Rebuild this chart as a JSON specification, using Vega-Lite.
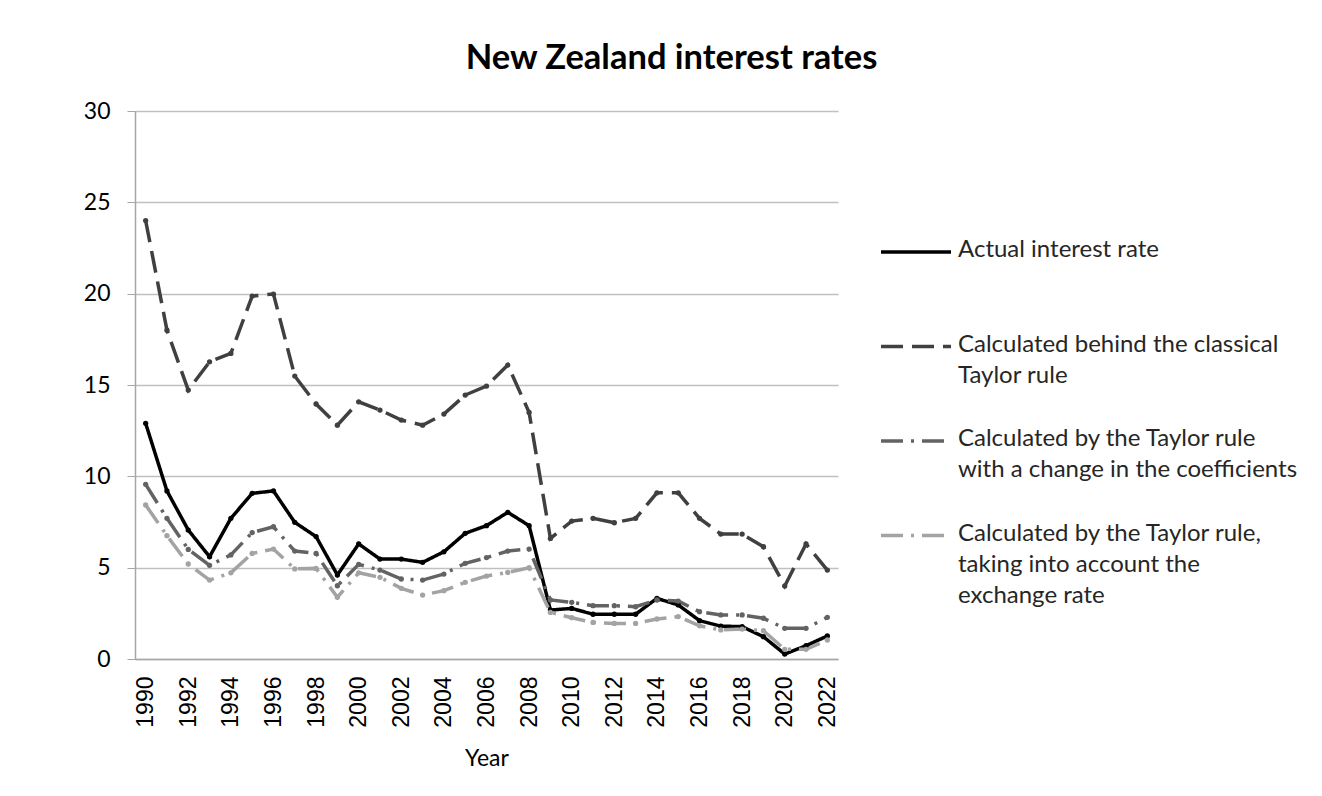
{
  "$schema": "https://vega.github.io/schema/vega-lite/v6.json",
  "autosize": "none",
  "width": 703,
  "height": 548,
  "padding": {"left": 135, "top": 111, "right": 484, "bottom": 137},
  "background": "white",
  "title": {
    "text": "New Zealand interest rates",
    "font": "Lato",
    "fontSize": 34.5,
    "fontWeight": "bold",
    "color": "#000000",
    "anchor": "middle",
    "frame": "group",
    "baseline": "alphabetic",
    "offset": -3,
    "dx": 185
  },
  "data": {
    "values": [
      {"Year": 1990, "a": 12.9, "b": 24.0, "c": 9.56, "d": 8.43},
      {"Year": 1991, "a": 9.2, "b": 18.0, "c": 7.7, "d": 6.75},
      {"Year": 1992, "a": 7.06, "b": 14.72, "c": 6.0, "d": 5.2},
      {"Year": 1993, "a": 5.6, "b": 16.27, "c": 5.13, "d": 4.32},
      {"Year": 1994, "a": 7.7, "b": 16.73, "c": 5.7, "d": 4.72},
      {"Year": 1995, "a": 9.07, "b": 19.87, "c": 6.92, "d": 5.78},
      {"Year": 1996, "a": 9.2, "b": 19.98, "c": 7.24, "d": 6.02},
      {"Year": 1997, "a": 7.48, "b": 15.49, "c": 5.91, "d": 4.93},
      {"Year": 1998, "a": 6.7, "b": 13.96, "c": 5.78, "d": 4.96},
      {"Year": 1999, "a": 4.6, "b": 12.8, "c": 4.01, "d": 3.38},
      {"Year": 2000, "a": 6.3, "b": 14.08, "c": 5.18, "d": 4.72},
      {"Year": 2001, "a": 5.47, "b": 13.63, "c": 4.87, "d": 4.47},
      {"Year": 2002, "a": 5.47, "b": 13.08, "c": 4.38, "d": 3.87},
      {"Year": 2003, "a": 5.29, "b": 12.8, "c": 4.32, "d": 3.5},
      {"Year": 2004, "a": 5.87, "b": 13.41, "c": 4.65, "d": 3.74},
      {"Year": 2005, "a": 6.88, "b": 14.45, "c": 5.24, "d": 4.2},
      {"Year": 2006, "a": 7.3, "b": 14.94, "c": 5.55, "d": 4.54},
      {"Year": 2007, "a": 8.03, "b": 16.09, "c": 5.91, "d": 4.74},
      {"Year": 2008, "a": 7.3, "b": 13.5, "c": 6.02, "d": 5.0},
      {"Year": 2009, "a": 2.68, "b": 6.6, "c": 3.23, "d": 2.55},
      {"Year": 2010, "a": 2.77, "b": 7.55, "c": 3.1, "d": 2.26},
      {"Year": 2011, "a": 2.45, "b": 7.7, "c": 2.92, "d": 2.0},
      {"Year": 2012, "a": 2.45, "b": 7.46, "c": 2.92, "d": 1.95},
      {"Year": 2013, "a": 2.45, "b": 7.7, "c": 2.86, "d": 1.95},
      {"Year": 2014, "a": 3.32, "b": 9.1, "c": 3.23, "d": 2.19},
      {"Year": 2015, "a": 2.96, "b": 9.1, "c": 3.17, "d": 2.32},
      {"Year": 2016, "a": 2.1, "b": 7.7, "c": 2.59, "d": 1.82},
      {"Year": 2017, "a": 1.8, "b": 6.84, "c": 2.41, "d": 1.59},
      {"Year": 2018, "a": 1.77, "b": 6.84, "c": 2.41, "d": 1.64},
      {"Year": 2019, "a": 1.22, "b": 6.15, "c": 2.23, "d": 1.55},
      {"Year": 2020, "a": 0.27, "b": 4.0, "c": 1.68, "d": 0.53},
      {"Year": 2021, "a": 0.73, "b": 6.3, "c": 1.68, "d": 0.53},
      {"Year": 2022, "a": 1.26, "b": 4.87, "c": 2.28, "d": 1.04}
    ]
  },
  "transform": [{"fold": ["a", "b", "c", "d"], "as": ["Series", "Value"]}],
  "encoding": {
    "x": {
      "field": "Year",
      "type": "ordinal",
      "scale": {"type": "point", "padding": 0.5},
      "axis": {
        "title": "Year",
        "titleFont": "Lato",
        "titleFontSize": 23,
        "titleFontWeight": "normal",
        "titleColor": "#000000",
        "titlePadding": 20,
        "values": [1990, 1992, 1994, 1996, 1998, 2000, 2002, 2004, 2006, 2008, 2010, 2012, 2014, 2016, 2018, 2020, 2022],
        "labelAngle": -90,
        "labelFont": "Liberation Sans",
        "labelFontSize": 23,
        "labelColor": "#000000",
        "labelPadding": 17,
        "ticks": false,
        "domainColor": "#a6a6a6",
        "domainWidth": 1.5,
        "grid": false
      }
    },
    "y": {
      "field": "Value",
      "type": "quantitative",
      "scale": {"domain": [0, 30], "nice": false},
      "axis": {
        "title": null,
        "values": [0, 5, 10, 15, 20, 25, 30],
        "labelFont": "Lato",
        "labelFontSize": 23,
        "labelColor": "#000000",
        "labelPadding": 17,
        "tickSize": 8,
        "tickColor": "#a6a6a6",
        "domainColor": "#a6a6a6",
        "domainWidth": 1.5,
        "gridColor": "#c0c0c0",
        "gridWidth": 1.5
      }
    },
    "color": {
      "field": "Series",
      "type": "nominal",
      "scale": {"domain": ["a", "b", "c", "d"], "range": ["#000000", "#404040", "#636363", "#a3a3a3"]}
    }
  },
  "layer": [
    {
      "mark": {"type": "line", "strokeWidth": 3.5, "strokeCap": "butt"},
      "encoding": {
        "strokeDash": {
          "field": "Series",
          "type": "nominal",
          "scale": {"domain": ["a", "b", "c", "d"], "range": [[1, 0], [22, 9], [22, 8, 3, 8], [22, 8, 3, 8]]}
        },
        "color": {
          "field": "Series",
          "type": "nominal",
          "scale": {"domain": ["a", "b", "c", "d"], "range": ["#000000", "#404040", "#636363", "#a3a3a3"]},
          "legend": {
            "title": null,
            "orient": "none",
            "legendX": 769,
            "legendY": 129,
            "symbolType": "M-5,0H5",
            "symbolSize": 196,
            "symbolStrokeWidth": 3.5,
            "symbolFillColor": "transparent",
            "labelFont": "Lato",
            "labelFontSize": 24,
            "labelColor": "#262626",
            "labelLimit": 450,
            "labelOffset": 30,
            "labelBaseline": "top",
            "gridAlign": "all",
            "rowPadding": 8.5,
            "labelExpr": "datum.value == 'a' ? 'Actual interest rate' : datum.value == 'b' ? ['Calculated behind the classical', 'Taylor rule'] : datum.value == 'c' ? ['Calculated by the Taylor rule', 'with a change in the coefficients'] : ['Calculated by the Taylor rule,', 'taking into account the', 'exchange rate']",
            "encode": {"labels": {"update": {"dy": {"value": -14}, "lineHeight": {"value": 31}}}}
          }
        }
      }
    },
    {
      "mark": {"type": "point", "filled": true, "size": 28, "opacity": 1},
      "encoding": {
        "color": {
          "field": "Series",
          "type": "nominal",
          "scale": {"domain": ["a", "b", "c", "d"], "range": ["#000000", "#404040", "#636363", "#a3a3a3"]},
          "legend": null
        }
      }
    }
  ],
  "config": {
    "view": {"stroke": null}
  }
}
